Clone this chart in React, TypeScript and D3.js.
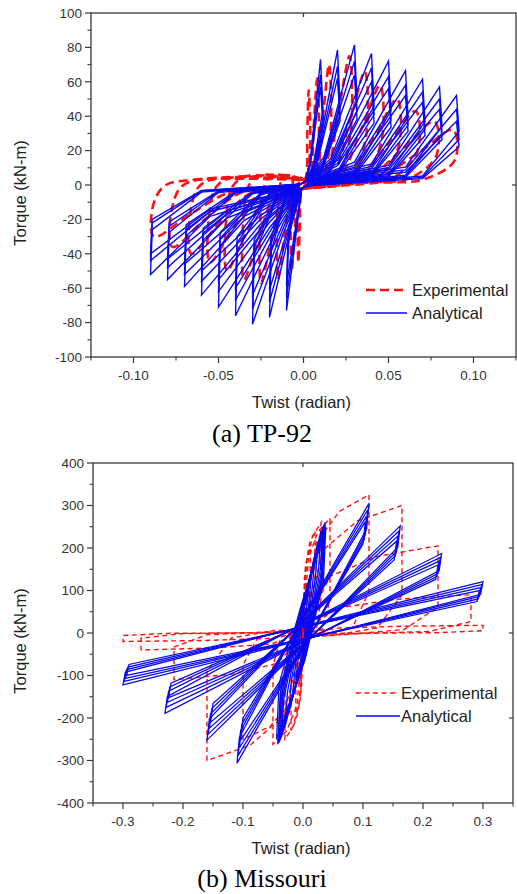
import React from 'react';
import * as d3 from 'd3';

// ---------------- TP-92 (a) ----------------
const tpXTicks = [-0.1, -0.05, 0, 0.05, 0.1];
const tpXLabels = ['-0.10', '-0.05', '0.00', '0.05', '0.10'];
const tpXMinor = [-0.125, -0.075, -0.025, 0.025, 0.075, 0.125];
const tpYTicks = [-100, -80, -60, -40, -20, 0, 20, 40, 60, 80, 100];
const tpYMinor = [-90, -70, -50, -30, -10, 10, 30, 50, 70, 90];

// analytical cycles: twist amplitude, positive peak torque, negative peak torque
const tpAnaTwist = [0.01, 0.01, 0.01, 0.02, 0.02, 0.02, 0.03, 0.03, 0.03, 0.04, 0.04, 0.04, 0.05, 0.05, 0.05, 0.06, 0.06, 0.06, 0.07, 0.07, 0.07, 0.08, 0.08, 0.08, 0.09, 0.09, 0.09];
const tpAnaPos = [73, 64, 57, 78.5, 69, 62, 81.5, 72, 64, 76.5, 68, 60, 72, 63, 56, 66.5, 58, 52, 61.5, 54, 48, 57, 50, 44, 52, 44, 37];
const tpAnaNeg = [-73, -65, -58, -77, -68, -61, -81, -72, -64, -76, -67, -60, -71, -62, -55, -64, -56, -50, -59, -52, -46, -55, -48, -43, -52, -44, -40];

// experimental cycles
const tpExpPosTwist = [0.003, 0.008, 0.015, 0.027, 0.036, 0.045, 0.055, 0.066, 0.077, 0.088];
const tpExpPosTorque = [55, 62, 70, 75, 66, 58, 50, 43, 37, 32];
const tpExpNegTwist = [-0.003, -0.007, -0.015, -0.025, -0.035, -0.045, -0.055, -0.066, -0.077, -0.088];
const tpExpNegTorque = [-45, -50, -55, -57, -55, -50, -45, -40, -36, -30];

// ---------------- Missouri (b) ----------------
const msXTicks = [-0.3, -0.2, -0.1, 0, 0.1, 0.2, 0.3];
const msXLabels = ['-0.3', '-0.2', '-0.1', '0.0', '0.1', '0.2', '0.3'];
const msXMinor = [-0.35, -0.25, -0.15, -0.05, 0.05, 0.15, 0.25, 0.35];
const msYTicks = [-400, -300, -200, -100, 0, 100, 200, 300, 400];
const msYMinor = [-350, -250, -150, -50, 50, 150, 250, 350];

const msAnaPosTwist = [0.005, 0.01, 0.015, 0.02, 0.025, 0.03, 0.033, 0.035, 0.037, 0.038, 0.036, 0.034,
  0.11, 0.108, 0.106, 0.104, 0.162, 0.16, 0.158, 0.156, 0.231, 0.229, 0.227, 0.225, 0.3, 0.298, 0.296, 0.294];
const msAnaPosTorque = [60, 110, 150, 185, 215, 240, 250, 255, 260, 250, 240, 230,
  305, 290, 275, 262, 252, 240, 228, 216, 187, 178, 169, 160, 121, 114, 107, 100];
const msAnaNegTwist = [-0.006, -0.012, -0.018, -0.024, -0.03, -0.036, -0.038, -0.04, -0.042, -0.044, -0.04, -0.037,
  -0.11, -0.108, -0.106, -0.104, -0.16, -0.158, -0.156, -0.154, -0.23, -0.228, -0.226, -0.224, -0.3, -0.298, -0.296, -0.294];
const msAnaNegTorque = [-60, -110, -155, -190, -220, -245, -252, -258, -262, -250, -240, -232,
  -306, -288, -270, -252, -252, -238, -224, -210, -189, -175, -163, -152, -122, -114, -107, -100];
const msAnaDrop = [30, 50, 60, 70, 80, 90, 100, 110, 120, 130, 120, 110,
  60, 58, 55, 52, 50, 48, 46, 44, 40, 38, 36, 34, 30, 28, 27, 26];

const msExpPosTwist = [0.005, 0.012, 0.02, 0.03, 0.045, 0.11, 0.165, 0.225, 0.28, 0.3];
const msExpPosTorque = [120, 200, 240, 260, 270, 325, 300, 205, 90, 18];
const msExpNegTwist = [-0.006, -0.012, -0.02, -0.03, -0.05, -0.1, -0.16, -0.215, -0.27, -0.3];
const msExpNegTorque = [-120, -190, -230, -250, -262, -250, -300, -110, -40, -20];

type Pt = [number, number];

function tpAnaLoop(th: number, tp: number, tn: number): Pt[] {
  const kp = Math.max(th * 0.4, th - 0.03);
  const up = Math.max(th * 0.5, th - 0.02);
  const kn = Math.max(th * 0.4, th - 0.035);
  const un = Math.max(th * 0.5, th - 0.03);
  return [
    [0.001, 2], [kp, 0.2 * tp], [th, tp], [th + 0.0015, 0.6 * tp], [up, 0.1 * tp], [0.002, -0.5],
    [-0.001, -2], [-kn, 0.35 * tn], [-th, tn], [-th + 0.001, 0.5 * tn], [-un, 0.08 * tn], [-0.002, 0.5], [0.001, 2],
  ];
}

function tpExpLoop(pt: number, pT: number, nt: number, nT: number): Pt[] {
  return [
    [0, 3], [0.45 * pt, 0.08 * pT], [0.75 * pt, 0.55 * pT], [pt, pT], [pt + 0.001, 0.45 * pT],
    [0.8 * pt, 0.1 * pT], [0.5 * pt, 0.04 * pT], [0, -2],
    [0.45 * nt, 0.1 * nT], [0.75 * nt, 0.55 * nT], [nt, nT], [nt - 0.0005, 0.4 * nT],
    [0.93 * nt, 0.02 * nT], [0.75 * nt, -0.1 * nT], [0, 3],
  ];
}

function msAnaLoop(pt: number, pT: number, nt: number, nT: number, h: number): Pt[] {
  const e = h * 0.5;
  return [
    [-0.003, e], [pt, pT], [pt - 0.004, pT - h], [0.003, -e],
    [nt, nT], [nt + 0.004, nT + h], [-0.003, e],
  ];
}

function msExpLoop(pt: number, pT: number, nt: number, nT: number): Pt[] {
  return [
    [0, 0.02 * pT], [0.2 * pt, 0.65 * pT], [0.55 * pt, 0.88 * pT], [pt, pT], [pt, 0.3 * pT],
    [0.75 * pt, 0.04 * pT], [0.3 * pt, -0.02 * pT], [0, -0.03 * pT],
    [0.2 * nt, 0.65 * nT], [0.55 * nt, 0.88 * nT], [nt, nT], [nt, 0.3 * nT],
    [0.75 * nt, 0.04 * nT], [0.3 * nt, -0.02 * nT], [0, 0.02 * pT],
  ];
}

const RED = '#ff1010';
const BLUE = '#0a0af0';
const AXIS = '#3a3a3a';
const SANS = '"Liberation Sans", Arial, Helvetica, sans-serif';
const SERIF = '"Liberation Serif", "Times New Roman", serif';

interface ChartProps {
  xDomain: [number, number]; yDomain: [number, number];
  xRange: [number, number]; yRange: [number, number];
  xTicks: number[]; xLabels: string[]; xMinor: number[];
  yTicks: number[]; yMinor: number[];
  topTicks: number[]; rightTicks: number[];
  exp: Pt[][]; ana: Pt[][]; smoothExp: boolean;
  redWidth: number; redDash: string; blueWidth: number;
  legendX: number; legendY: number; legendLine: [number, number];
  captionY: number; caption: string;
}

function Chart(p: ChartProps) {
  const x = d3.scaleLinear().domain(p.xDomain).range(p.xRange);
  const y = d3.scaleLinear().domain(p.yDomain).range(p.yRange);
  const [x0, x1] = p.xRange;
  const [y1, y0] = p.yRange; // y1 bottom, y0 top
  const lin = d3.line<Pt>().x(d => x(d[0])).y(d => y(d[1]));
  const curv = d3.line<Pt>().x(d => x(d[0])).y(d => y(d[1])).curve(d3.curveCatmullRom.alpha(0.5));
  const expLine = p.smoothExp ? curv : lin;
  const cx = (x0 + x1) / 2;
  const cy = (y0 + y1) / 2;
  const clipId = 'clip' + Math.round(y0);
  return (
    <g>
      <defs>
        <clipPath id={clipId}><rect x={x0} y={y0} width={x1 - x0} height={y1 - y0} /></clipPath>
      </defs>
      <g clipPath={`url(#${clipId})`} fill="none" strokeLinejoin="miter">
        {p.exp.map((l, i) => (
          <path key={'e' + i} d={expLine(l) || ''} stroke={RED} strokeWidth={p.redWidth} strokeDasharray={p.redDash} />
        ))}
        {p.ana.map((l, i) => (
          <path key={'a' + i} d={lin(l) || ''} stroke={BLUE} strokeWidth={p.blueWidth} />
        ))}
      </g>
      <rect x={x0} y={y0} width={x1 - x0} height={y1 - y0} fill="none" stroke={AXIS} strokeWidth={1.3} />
      {p.yTicks.map(t => (
        <g key={'yt' + t}>
          <line x1={x0 - 6} x2={x0} y1={y(t)} y2={y(t)} stroke={AXIS} strokeWidth={1.2} />
          <text x={x0 - 9} y={y(t)} dy="0.36em" textAnchor="end" fontFamily={SANS} fontSize={13.5} fill="#333">{t}</text>
        </g>
      ))}
      {p.yMinor.map(t => (
        <line key={'ym' + t} x1={x0 - 3.5} x2={x0} y1={y(t)} y2={y(t)} stroke={AXIS} strokeWidth={1.1} />
      ))}
      {p.xTicks.map((t, i) => (
        <g key={'xt' + t}>
          <line x1={x(t)} x2={x(t)} y1={y1} y2={y1 + 6} stroke={AXIS} strokeWidth={1.2} />
          <text x={x(t)} y={y1 + 23} textAnchor="middle" fontFamily={SANS} fontSize={13.5} fill="#333">{p.xLabels[i]}</text>
        </g>
      ))}
      {p.xMinor.map(t => (
        <line key={'xm' + t} x1={x(t)} x2={x(t)} y1={y1} y2={y1 + 3.5} stroke={AXIS} strokeWidth={1.1} />
      ))}
      {p.topTicks.map(t => (
        <line key={'tt' + t} x1={x(t)} x2={x(t)} y1={y0} y2={y0 + 4} stroke={AXIS} strokeWidth={1.2} />
      ))}
      {p.rightTicks.map(t => (
        <line key={'rt' + t} x1={x1 - 4} x2={x1} y1={y(t)} y2={y(t)} stroke={AXIS} strokeWidth={1.2} />
      ))}
      <text x={cx - 2} y={y1 + 51} textAnchor="middle" fontFamily={SANS} fontSize={16.5} fill="#222">Twist (radian)</text>
      <text transform={`translate(26,${cy + 8}) rotate(-90)`} textAnchor="middle" fontFamily={SANS} fontSize={16.5} fill="#222">Torque (kN-m)</text>
      <line x1={p.legendLine[0]} x2={p.legendLine[1]} y1={p.legendY} y2={p.legendY} stroke={RED} strokeWidth={p.redWidth} strokeDasharray={p.redDash} />
      <text x={p.legendX} y={p.legendY} dy="0.36em" fontFamily={SANS} fontSize={16.5} fill="#222">Experimental</text>
      <line x1={p.legendLine[0]} x2={p.legendLine[1] + 4} y1={p.legendY + 23} y2={p.legendY + 23} stroke={BLUE} strokeWidth={1.6} />
      <text x={p.legendX} y={p.legendY + 23} dy="0.36em" fontFamily={SANS} fontSize={16.5} fill="#222">Analytical</text>
      <text x={262} y={p.captionY} textAnchor="middle" fontFamily={SERIF} fontSize={26} fill="#000">{p.caption}</text>
    </g>
  );
}

export default function App() {
  const tpAna = tpAnaTwist.map((t, i) => tpAnaLoop(t, tpAnaPos[i], tpAnaNeg[i]));
  const tpExp = tpExpPosTwist.map((t, i) => tpExpLoop(t, tpExpPosTorque[i], tpExpNegTwist[i], tpExpNegTorque[i]));
  const msAna = msAnaPosTwist.map((t, i) => msAnaLoop(t, msAnaPosTorque[i], msAnaNegTwist[i], msAnaNegTorque[i], msAnaDrop[i]));
  const msExp = msExpPosTwist.map((t, i) => msExpLoop(t, msExpPosTorque[i], msExpNegTwist[i], msExpNegTorque[i]));
  return (
    <div style={{ position: 'absolute', left: 0, top: 0 }}>
      <svg width={517} height={894} style={{ display: 'block', background: '#fff' }}>
        <Chart
          xDomain={[-0.125, 0.125]} yDomain={[-100, 100]} xRange={[91, 516]} yRange={[357, 13]}
          xTicks={tpXTicks} xLabels={tpXLabels} xMinor={tpXMinor} yTicks={tpYTicks} yMinor={tpYMinor}
          topTicks={[0]} rightTicks={[0]} smoothExp={true}
          exp={tpExp} ana={tpAna} redWidth={2.6} redDash="9,5" blueWidth={1.4}
          legendX={412} legendY={290} legendLine={[366, 403]} captionY={442} caption="(a) TP-92"
        />
        <Chart
          xDomain={[-0.35, 0.35]} yDomain={[-400, 400]} xRange={[93, 513]} yRange={[803, 463]}
          xTicks={msXTicks} xLabels={msXLabels} xMinor={msXMinor} yTicks={msYTicks} yMinor={msYMinor}
          topTicks={[0]} rightTicks={[-200, 0, 200]} smoothExp={false}
          exp={msExp} ana={msAna} redWidth={1.4} redDash="5,3.5" blueWidth={1.3}
          legendX={401} legendY={693} legendLine={[356, 396]} captionY={887} caption="(b) Missouri"
        />
      </svg>
    </div>
  );
}
